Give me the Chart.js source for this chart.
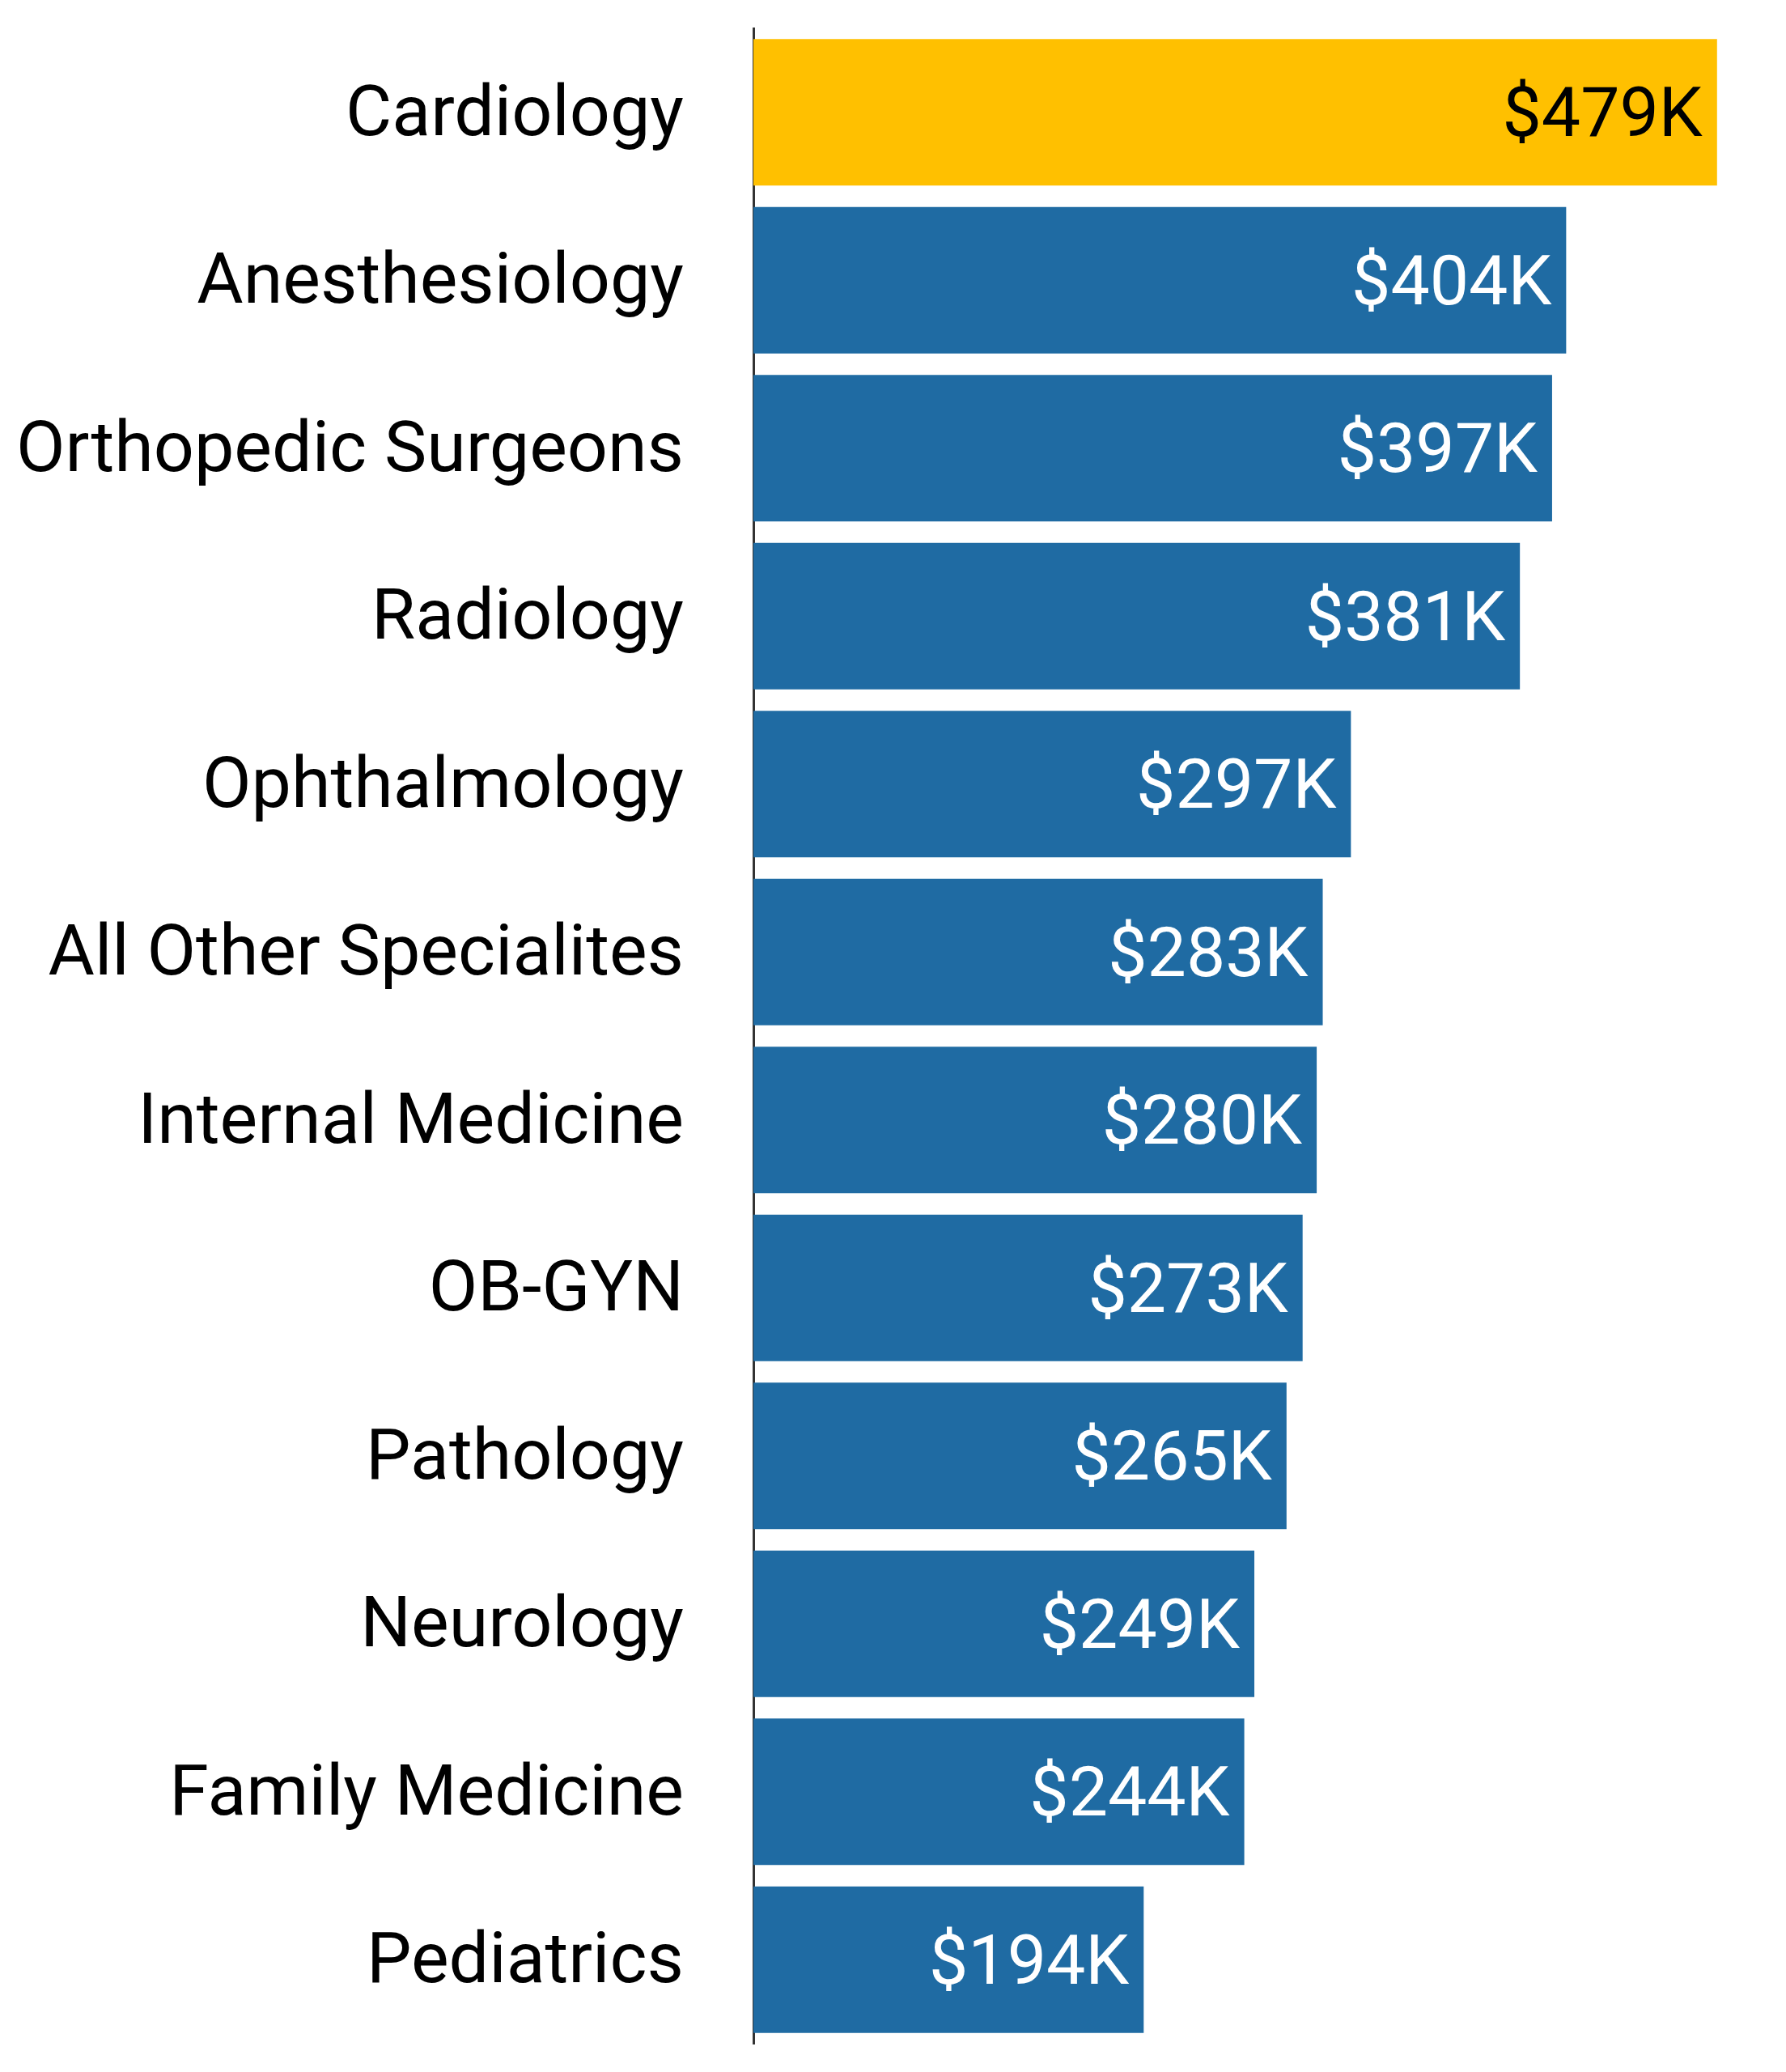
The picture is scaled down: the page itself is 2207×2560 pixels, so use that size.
<!DOCTYPE html>
<html>
<head>
<meta charset="utf-8">
<script src="https://cdn.jsdelivr.net/npm/chart.js@4/dist/chart.umd.min.js"></script>
<style>
  html, body { margin: 0; padding: 0; background: #ffffff; }
  #wrap { width: 2207px; height: 2560px; }
</style>
</head>
<body>
<div id="wrap"><canvas id="c" width="2207" height="2560"></canvas></div>
<script>
const categories = [
  "Cardiology", "Anesthesiology", "Orthopedic Surgeons", "Radiology",
  "Ophthalmology", "All Other Specialites", "Internal Medicine", "OB-GYN",
  "Pathology", "Neurology", "Family Medicine", "Pediatrics"
];
const salariesK = [479, 404, 397, 381, 297, 283, 280, 273, 265, 249, 244, 194];
const highlightCategory = "Cardiology";

const YELLOW = "#FFC000";
const BLUE = "#1F6BA3";
const FONT = "Roboto, 'Liberation Sans', Arial, sans-serif";

const barColors = categories.map(c => c === highlightCategory ? YELLOW : BLUE);
const labelColors = categories.map(c => c === highlightCategory ? "#000000" : "#ffffff");

const valueLabelPlugin = {
  id: "valueLabels",
  afterDatasetsDraw(chart) {
    const ctx = chart.ctx;
    const meta = chart.getDatasetMeta(0);
    ctx.save();
    ctx.font = "86px " + FONT;
    ctx.textAlign = "right";
    ctx.textBaseline = "middle";
    meta.data.forEach((bar, i) => {
      ctx.fillStyle = labelColors[i];
      ctx.fillText("$" + salariesK[i] + "K", bar.x - 18, bar.y + 8);
    });
    ctx.restore();
  }
};

new Chart(document.getElementById("c"), {
  type: "bar",
  data: {
    labels: categories,
    datasets: [{
      data: salariesK,
      backgroundColor: barColors,
      borderWidth: 0,
      categoryPercentage: 1.0,
      barPercentage: 0.872
    }]
  },
  options: {
    indexAxis: "y",
    responsive: false,
    animation: false,
    devicePixelRatio: 1,
    layout: { padding: { top: 35, bottom: 35, right: 33, left: 0 } },
    plugins: { legend: { display: false }, tooltip: { enabled: false } },
    scales: {
      x: {
        display: false,
        min: 0,
        max: 500
      },
      y: {
        grid: { display: false, drawTicks: false },
        border: { display: true, color: "#333333", width: 3 },
        ticks: {
          color: "#000000",
          padding: 86,
          labelOffset: 6,
          font: { family: FONT, size: 88 }
        },
        afterFit(scale) {
          scale.width = 931;
          scale.paddingTop = 0;
          scale.paddingBottom = 0;
        }
      }
    }
  },
  plugins: [valueLabelPlugin]
});
</script>
</body>
</html>
